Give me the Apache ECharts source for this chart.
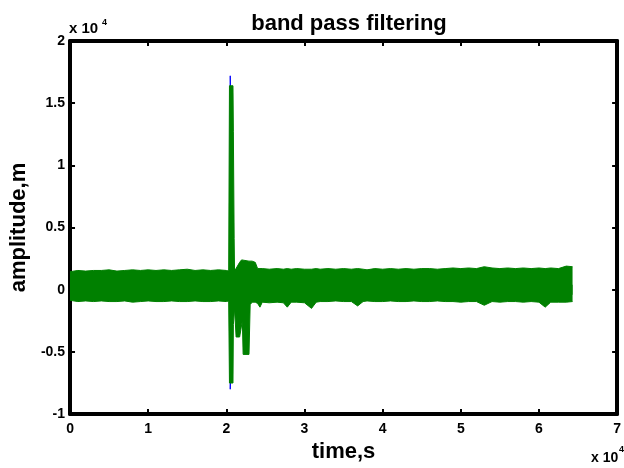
<!DOCTYPE html>
<html>
<head>
    <meta charset="utf-8">
    <title>band pass filtering</title>
    <script src="https://cdn.jsdelivr.net/npm/echarts@6/dist/echarts.min.js"></script>
</head>
<body style="margin:0">
    <div id="main" style="width:624px; height:468px;"></div>
    <script>
        // envelope of the filtered trace (green)
        var time = [0, 1000, 2000, 3000, 4000, 5000, 6000, 7000, 8000, 9000,
            10000, 11000, 12000, 13000, 14000, 15000, 16000, 17000, 18000, 19000,
            20000, 20300, 20400, 20850, 20900, 21000, 21050, 21250, 21700, 21950,
            22050, 22150, 22900, 23050, 23300, 23700, 24000, 24300, 24600, 25500,
            26500, 27300, 27800, 28300, 29000, 30000, 30900, 31500, 32000, 33000,
            34000, 35000, 36000, 36800, 37500, 38000, 39000, 40000, 41000, 42000,
            43000, 44000, 45000, 46000, 47000, 48000, 49000, 50000, 51000, 52000,
            53000, 54000, 55000, 56000, 57000, 58000, 59000, 60000, 60800, 61500,
            62500, 63500, 64300]
        var greenHi = [1450, 1550, 1500, 1550, 1550, 1600, 1500, 1550, 1600, 1550,
            1600, 1550, 1600, 1550, 1600, 1650, 1550, 1600, 1550, 1600,
            1550, 1500, 16400, 16400, 12700, 4100, 1500, 1400, 2200, 2400,
            2400, 2400, 2300, 2300, 2300, 2200, 1700, 1700, 1700, 1650,
            1700, 1650, 1700, 1650, 1700, 1650, 1650, 1700, 1650, 1700,
            1650, 1700, 1650, 1700, 1650, 1600, 1700, 1650, 1700, 1650,
            1700, 1650, 1700, 1700, 1650, 1700, 1750, 1700, 1750, 1700,
            1850, 1750, 1700, 1750, 1700, 1750, 1700, 1750, 1700, 1750,
            1700, 1900, 1850]
        var greenLo = [-850, -950, -900, -950, -900, -950, -950, -900, -1000, -950,
            -900, -950, -950, -900, -950, -950, -900, -950, -950, -900,
            -950, -900, -7500, -7500, -2800, -2800, -1500, -3800, -3800, -3800,
            -2500, -5200, -5200, -1200, -1000, -1000, -1100, -1400, -1000, -1050,
            -1000, -1050, -1400, -1000, -1000, -1050, -1500, -1000, -950, -950,
            -900, -950, -950, -1300, -950, -900, -950, -950, -900, -950,
            -950, -900, -950, -950, -900, -950, -950, -1000, -950, -950,
            -1250, -950, -1000, -950, -950, -1000, -950, -1000, -1400, -1000,
            -1000, -1000, -950]

        // raw trace (blue), only its tips show from under the green one
        var blueTime = [20450, 20500, 20750, 20800, 21500, 21600, 21700]
        var blueHi = [1500, 17200, 17200, 1500, 1500, 1750, 1500]
        var blueLo = [-900, -8000, -8000, -900, -900, -900, -900]

        var xTicks = [0, 10000, 20000, 30000, 40000, 50000, 60000, 70000]
        var yTicks = [-10000, -5000, 0, 5000, 10000, 15000, 20000]

        var font = '"Liberation Sans", Arial, sans-serif'

        var pairs = function(t, v) {
            var out = []
            for (var i = 0; i < t.length; i++) {
                out.push([t[i], v[i]])
            }
            return out
        }

        // upper and lower envelope each filled towards zero, overlapping a little
        // round zero so the two halves join without a seam
        var bandSeries = function(name, color, t, hi, lo, z) {
            return [
                {
                    name: name,
                    type: 'line',
                    z: z,
                    showSymbol: false,
                    lineStyle: {color: color, width: 1},
                    areaStyle: {color: color, opacity: 1, origin: -400},
                    data: pairs(t, hi)
                },
                {
                    name: name,
                    type: 'line',
                    z: z,
                    showSymbol: false,
                    lineStyle: {color: color, width: 1},
                    areaStyle: {color: color, opacity: 1, origin: 400},
                    data: pairs(t, lo)
                }
            ]
        }

        var axisLine = {onZero: false, lineStyle: {color: '#000', width: 4}}
        var axisTick = {inside: true, length: 5, lineStyle: {color: '#000', width: 2}}
        var label = {color: '#000', fontSize: 14, fontWeight: 'bold', fontFamily: font}
        var fmt = function(v) { return String(v / 10000) }

        var myChart = echarts.init(document.querySelector('#main'))
        var option = {
            animation: false,
            backgroundColor: '#fff',
            title: {
                text: 'band pass filtering',
                left: 344,
                top: 8,
                textAlign: 'center',
                textStyle: {fontSize: 22, fontWeight: 'bold', color: '#000', fontFamily: font}
            },
            grid: {left: 68, right: 3, top: 41, bottom: 50},
            xAxis: [
                {
                    type: 'value', min: xTicks[0], max: xTicks[xTicks.length - 1], interval: 10000,
                    position: 'bottom',
                    axisLine: axisLine, axisTick: axisTick, splitLine: {show: false},
                    axisLabel: Object.assign({margin: 8, formatter: fmt}, label),
                    name: 'time,s', nameLocation: 'middle', nameGap: 18,
                    nameTextStyle: {color: '#000', fontSize: 22, fontWeight: 'bold', fontFamily: font}
                },
                {
                    type: 'value', min: xTicks[0], max: xTicks[xTicks.length - 1], interval: 10000,
                    position: 'top',
                    axisLine: axisLine, axisTick: axisTick, splitLine: {show: false},
                    axisLabel: {show: false}
                }
            ],
            yAxis: [
                {
                    type: 'value', min: yTicks[0], max: yTicks[yTicks.length - 1], interval: 5000,
                    position: 'left',
                    axisLine: axisLine, axisTick: axisTick, splitLine: {show: false},
                    axisLabel: Object.assign({margin: 5, formatter: fmt}, label),
                    name: 'amplitude,m', nameLocation: 'middle', nameGap: 34,
                    nameTextStyle: {color: '#000', fontSize: 22, fontWeight: 'bold', fontFamily: font}
                },
                {
                    type: 'value', min: yTicks[0], max: yTicks[yTicks.length - 1], interval: 5000,
                    position: 'right',
                    axisLine: axisLine, axisTick: axisTick, splitLine: {show: false},
                    axisLabel: {show: false}
                }
            ],
            graphic: [
                {type: 'text', x: 69, y: 29, style: {text: 'x 10', font: 'bold 15px ' + font, fill: '#000', verticalAlign: 'middle'}},
                {type: 'text', x: 102, y: 23, style: {text: '4', font: 'bold 9px ' + font, fill: '#000', verticalAlign: 'middle'}},
                {type: 'text', x: 591, y: 458, style: {text: 'x 10', font: 'bold 14px ' + font, fill: '#000', verticalAlign: 'middle'}},
                {type: 'text', x: 619, y: 450, style: {text: '4', font: 'bold 9px ' + font, fill: '#000', verticalAlign: 'middle'}}
            ],
            series: bandSeries('raw', '#0000ff', blueTime, blueHi, blueLo, 1)
                .concat(bandSeries('filtered', '#008000', time, greenHi, greenLo, 2))
        }
        myChart.setOption(option)
    </script>
</body>
</html>
